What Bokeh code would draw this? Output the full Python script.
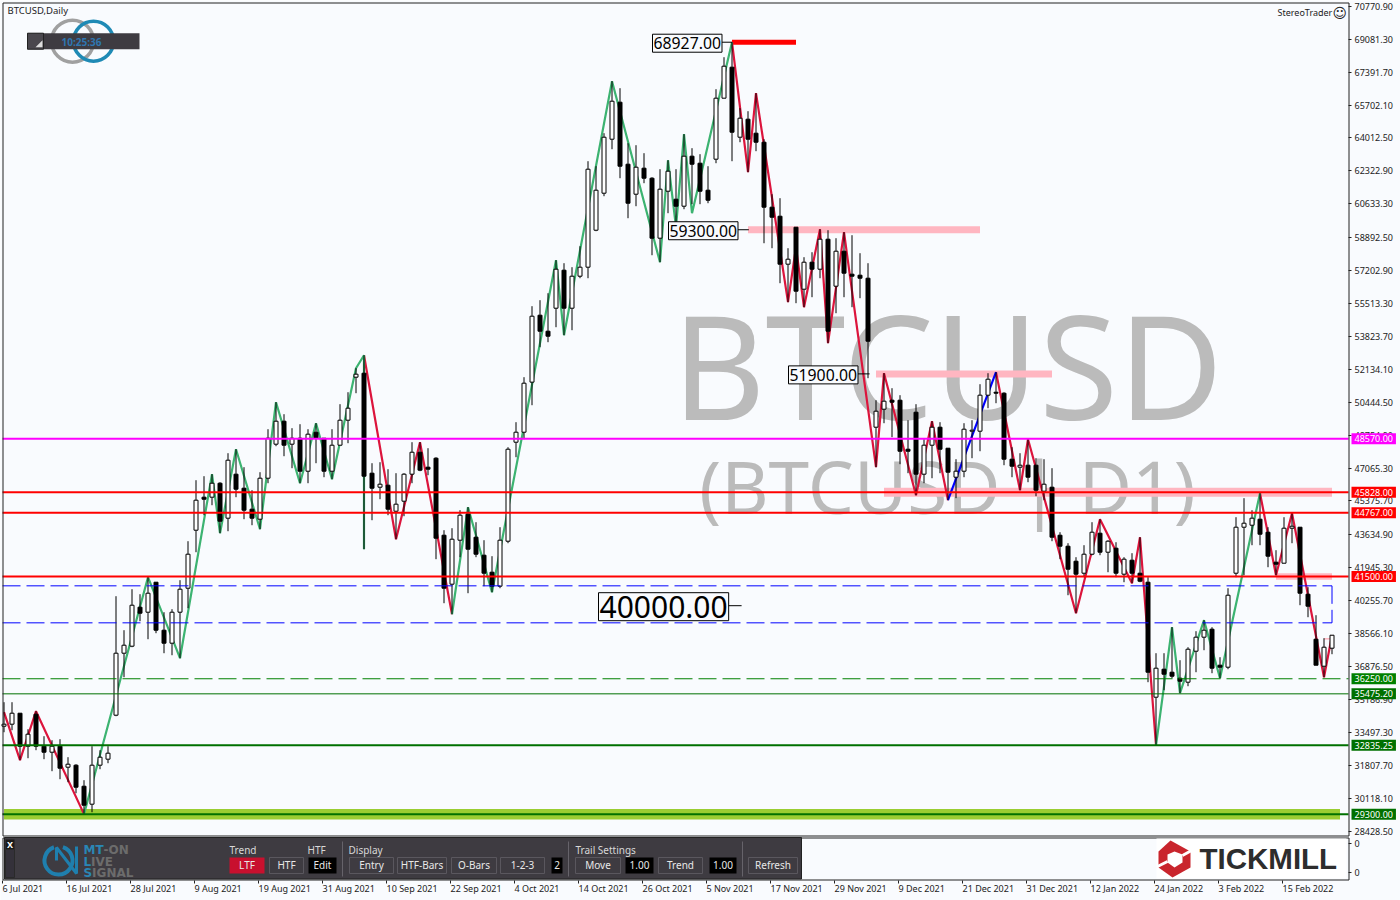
from bokeh.plotting import figure
from bokeh.models import Range1d, FixedTicker, Label, ColumnDataSource, LinearAxis
from bokeh.core.properties import value
from bokeh.embed import file_html
from bokeh.resources import INLINE

opens = [33814,33917,34481,32787,34430,32787,32479,32787,31709,31812,30733,29810,31812,32120,34379,37561,37921,39923,39666,41206,
38742,38075,39666,40898,43875,45570,45570,46288,44492,46751,46031,44954,44440,46545,48291,49471,48291,48598,46904,48906,
48598,46904,48239,49522,51730,51935,46802,46083,46185,44851,45365,46751,47879,47110,47572,43618,41104,43362,44697,43516,
42592,41719,41001,43311,48393,48906,51476,54912,54091,55272,57223,55272,56914,57377,59276,61175,63947,65847,62664,61124,
62459,61945,58866,61278,60867,60508,63075,62715,61329,62921,66053,67644,64050,64974,64255,63793,60457,59994,57531,59430,
56247,57633,57274,58814,56401,58198,57017,56966,56812,49163,50087,50549,50549,48033,49933,46751,48239,49163,48085,46596,
46904,48958,48958,50806,50959,50908,47520,47110,47212,47212,45878,46083,43618,43054,42284,41668,42643,43721,42746,42951,
41617,42335,41668,41206,35303,36740,36586,36278,36073,37664,38383,38793,36945,36842,41668,44029,44132,44440,43773,42233,
42181,43978,44029,40590,38280,36894,37818]
highs = [35046,35046,34481,33659,34584,33300,33095,33146,32223,31863,31042,32787,32582,32787,40487,38742,40846,40590,41463,41206,
39666,39820,41309,43311,46442,46648,46751,46340,47828,48033,47110,45929,46853,49060,50446,49830,49112,49317,49060,49368,
48598,49060,50344,50959,52192,52859,47315,47366,47007,46802,46802,48393,48393,48085,47623,43875,43978,44902,45057,44286,
43362,42541,44029,48136,49420,51730,55375,55683,56042,57736,57582,57377,58455,62818,62561,64255,66925,66565,63742,63639,
63229,61997,62407,62869,62407,64204,63486,63178,62561,66514,68157,68927,65539,65385,66309,63947,61124,60919,58352,59430,
57890,58146,59327,59276,58865,59173,59019,58095,57582,50549,51935,51165,50806,49522,50344,48547,49471,49420,48085,47520,
49368,49522,51370,51935,51986,50959,48136,47828,48547,47572,47520,47059,43773,43208,42490,43105,44286,44440,43362,43259,
42490,42695,43516,41463,37561,37561,38896,37202,37869,38691,39255,38896,37356,40898,44543,45519,44902,45775,44029,42849,
44543,44748,44029,40949,39512,38332,38485]
lows = [33505,33608,32068,32171,32582,32120,31504,31093,30939,30374,29300,29399,31606,31914,34327,36329,37869,39204,38280,38588,
37561,37458,37304,39871,42746,44646,45159,43721,43824,45570,44440,44132,43926,46288,48188,47674,47059,46288,46288,47315,
46596,46493,48239,48342,50908,42900,44389,45467,44646,43413,44595,46288,46904,46699,42387,40128,39563,42490,40641,42490,
41001,40692,40898,43208,47623,48547,50292,53270,53527,54296,53886,54142,56812,56812,59225,61021,63434,61945,59892,60508,
61689,57992,57633,60149,59430,60354,60611,60611,60662,62715,66053,62818,63793,62253,63332,58608,58352,56555,55580,55529,
55324,55837,56812,53475,55015,55837,55324,55786,51679,47110,49368,48650,47264,46802,45673,46288,46545,46802,45416,45519,
46596,47572,47930,50139,50395,47212,46596,45929,46340,45621,45416,43311,42387,40538,39615,41463,42592,42592,41719,41463,
41206,41155,41206,36073,32835,35662,36278,35508,35867,36586,37715,36534,36278,36740,41463,41565,43105,43105,41976,41565,
42181,43208,40025,39409,36945,36329,37510]
closes = [33917,34481,32787,33403,32787,32479,32787,31658,31863,30682,29758,31812,32223,32428,37561,37972,40025,39615,40641,38742,
38075,39666,40846,42643,45416,45467,46288,44338,47469,45980,44902,44492,46545,48598,49471,48239,48598,46904,48804,48598,
46904,48239,49522,50139,51884,46648,46031,46237,44954,45211,46751,47879,46956,47007,43465,40898,43413,44646,42900,42643,
41668,41001,43362,48033,48906,51422,54861,54091,53834,57274,55272,56914,57377,62407,61329,64050,65898,62561,60662,62510,
61945,58866,61381,62305,60508,63075,62664,61278,60816,66053,67695,64307,65026,63947,63793,60457,59943,57531,57787,56145,
57633,57274,58814,54091,58198,57069,56914,56812,53578,49984,50498,50446,47930,47930,46751,48239,49163,48033,46853,46904,
49060,49009,50806,51627,50908,47520,47161,47212,46596,45929,46237,43516,43054,41873,41617,42643,43773,42746,43311,41668,
42387,41668,41257,36586,36791,36483,36380,36124,37766,38383,38742,36791,36842,40538,44029,44235,44492,43670,42541,42130,
43978,44081,40641,39974,36945,37869,38485]

zig_red = [
    [(0,34533),(2,32068),(4,34584),(10,29300)],
    [(45,52859),(49,43413),(52,48393),(56,39563)],
    [(91,68927),(93,62253),(94,66309),(98,55580),(99,58404),(100,55324),(102,59327),(103,53475),(105,59173),(109,47110),(110,51935),(114,45673),(116,49471),(118,45416)],
    [(124,51986),(127,45929),(128,48547),(134,39615),(137,44440),(141,41155),(142,43516),(144,32835)],
    [(157,45775),(159,41565),(161,44748),(165,36329),(166,38485)],
]
zig_green = [
    [(10,29300),(18,41463),(22,37304),(26,46751),(27,43721),(29,48033),(32,43926),(34,50446),(37,46288),(39,49368),(41,46493),(44,52192),(45,52859),(45,42900)],
    [(56,39563),(58,45057),(61,40692),(69,57736),(70,53886),(76,66925),(82,57633),(83,62869),(84,59430),(85,64204),(86,60149),(91,68927)],
    [(144,32835),(146,38896),(147,35508),(150,39255),(152,36278),(157,45775)],
]
zig_blue = [[(118,45416),(124,51986)]]

# (price, half height, first bar, last bar, colour)
bands = [(68927,130,91,99,"#FF0000"),(59300,180,93,122,"#FFB6C1"),(51900,180,109,131,"#FFB6C1"),
         (45828,230,110,166,"#FFB6C1"),(41500,170,159,166,"#FFB6C1"),(38300,40,165,166,"#FFB6C1"),
         (29300,270,0,167,"#9ACD32")]
level_prices = [48570.0,45828.0,44767.0,41500.0,36250.0,35475.2,32835.25,29300.0]
level_texts = ["48570.00","45828.00","44767.00","41500.00","36250.00","35475.20","32835.25","29300.00"]
level_colors = ["#FF00FF","#FF0000","#FF0000","#FF0000","#008000","#007000","#007000","#007000"]
level_dash = ["solid","solid","solid","solid","18 6","solid","solid","solid"]
level_width = [2,2,2,2,1,1,2,2]
rect_prices = [41020,39120]
tick_values = [70770.9,69081.3,67391.7,65702.1,64012.5,62322.9,60633.3,58892.5,57202.9,55513.3,53823.7,52134.1,50444.5,48754.9,
               47065.3,45375.7,43634.9,41945.3,40255.7,38566.1,36876.5,35186.9,33497.3,31807.7,30118.1,28428.5]
date_labels = ["6 Jul 2021","16 Jul 2021","28 Jul 2021","9 Aug 2021","19 Aug 2021","31 Aug 2021","10 Sep 2021","22 Sep 2021",
               "4 Oct 2021","14 Oct 2021","26 Oct 2021","5 Nov 2021","17 Nov 2021","29 Nov 2021","9 Dec 2021","21 Dec 2021",
               "31 Dec 2021","12 Jan 2022","24 Jan 2022","3 Feb 2022","15 Feb 2022"]

BG = "#F9FBFE"
FONT = "Noto Sans"
DARK = "#3E3B41"
INK = "#222222"

def ix(px):
    return (px - 3.5) / 8
def py(y):
    return 71083.4 - 51.335 * y
def pg(y):
    return py(y + 0.3)

p = figure(width=1400, height=900, output_backend="svg", toolbar_location=None,
           x_range=Range1d(ix(0), ix(1400)), y_range=Range1d(pg(900), pg(0)),
           y_axis_location=None, x_axis_location=None,
           min_border_left=0, min_border_right=0, min_border_top=0, min_border_bottom=0,
           background_fill_color=BG, border_fill_color=BG, outline_line_color=None)
p.grid.visible = False

# axes
lower_zero = [pg(843), pg(872)]
ax = LinearAxis(fixed_location=ix(1348))
ax.ticker = FixedTicker(ticks=tick_values + lower_zero)
ax.major_label_overrides = {**{v: f"{v:.2f}" for v in tick_values}, lower_zero[0]: "0", lower_zero[1]: "0"}
ax.major_label_text_font = FONT
ax.major_label_text_font_size = "9px"
ax.major_label_text_color = INK
ax.major_tick_out = 3; ax.major_tick_in = 0; ax.minor_tick_out = 0; ax.minor_tick_in = 0
ax.major_label_standoff = 3
ax.axis_line_color = None
ax.major_tick_line_color = INK
p.add_layout(ax, "right")

tick_px = [2+64*k for k in range(len(date_labels))]
xa = LinearAxis(fixed_location=pg(879.5))
xa.ticker = FixedTicker(ticks=[ix(t) for t in tick_px])
xa.major_label_text_font_size = "0px"
xa.major_label_text_color = None
xa.major_tick_out = 3; xa.major_tick_in = 0; xa.minor_tick_out = 0; xa.minor_tick_in = 0
xa.axis_line_color = None
xa.major_tick_line_color = INK
p.add_layout(xa, "below")

# watermark
p.text([ix(947)], [py(364)], text=["BTCUSD"], text_font=value(FONT), text_font_size="144px", text_color="#BBBBBB",
       text_align="center", text_baseline="middle")
p.text([ix(947)], [py(485)], text=["(BTCUSD | D1)"], text_font=value(FONT), text_font_size="73px", text_color="#BBBBBB",
       text_align="center", text_baseline="middle")

# logo rings
p.circle([ix(72)], [py(41)], radius=21/8, fill_color=None, line_color="#A0A0A0", line_width=3.5)
p.circle([ix(93)], [py(41)], radius=20/8, fill_color=None, line_color="#1F8AB5", line_width=3.5)
p.quad(left=[ix(27)], right=[ix(139)], top=[py(33)], bottom=[py(49)], fill_color=DARK, line_color=None)
p.quad(left=[ix(27)], right=[ix(43)], top=[py(33)], bottom=[py(49)], fill_color="#4A474D", line_color=INK)
p.patch([ix(35), ix(42), ix(42)], [py(47), py(47), py(40)], fill_color="#DDDDDD", line_color=None)

# bands
p.quad(left=[b[2] for b in bands], right=[b[3] for b in bands],
       top=[b[0]+b[1] for b in bands], bottom=[b[0]-b[1] for b in bands],
       fill_color=[b[4] for b in bands], line_color=None)

# zigzags
for group, col in ((zig_red,"#DC143C"),(zig_green,"#3CB371"),(zig_blue,"#0000FF")):
    for seg in group:
        p.line([a for a,_ in seg],[b for _,b in seg], line_color=col, line_width=2.2)

# candles
xs = list(range(len(closes)))
src = ColumnDataSource(dict(x=xs, o=opens, h=highs, l=lows, c=closes,
    top=[max(a,b) for a,b in zip(opens,closes)], bot=[min(a,b) for a,b in zip(opens,closes)],
    col=["#FFFFFF" if c>=o else "#000000" for o,c in zip(opens,closes)]))
p.segment("x","h","x","l", source=src, line_color="#000000", line_width=1)
p.vbar("x", width=0.5, top="top", bottom="bot", fill_color="col", line_color="#000000", line_width=1, source=src)

# dashed rectangle
for rp in rect_prices:
    p.segment([ix(2)],[rp],[ix(1331.5)],[rp], line_color="#0000FF", line_width=1, line_dash="18 6")
p.segment([ix(1331.5)],[rect_prices[0]],[ix(1331.5)],[rect_prices[1]], line_color="#0000FF", line_width=1, line_dash="18 6")

# levels
for lp,col,d,w in zip(level_prices,level_colors,level_dash,level_width):
    p.segment([ix(2)],[lp],[ix(1348)],[lp], line_color=col, line_width=w, line_dash=d)

# frames
p.quad(left=[ix(2.5)], right=[ix(1348.5)], top=[pg(2.5)], bottom=[pg(835.5)], fill_color=None, line_color=INK, line_width=1)

# callouts
callouts = [(68927.00,"68927.00",649,"15.8px",91),(59300.00,"59300.00",665,"15.8px",93.1),
            (51900.00,"51900.00",785,"15.8px",108.2),(40000.00,"40000.00",595,"30px",92.2)]
for val,txt_,lx,fs,endbar in callouts:
    p.segment([ix(lx+60)],[val],[endbar],[val], line_color="#000000", line_width=1)
for val,txt_,lx,fs,endbar in callouts:
    p.add_layout(Label(x=ix(lx+3), y=val, y_offset=-1, text=txt_, text_font=FONT, text_font_size=fs, text_color="#000000",
                       text_baseline="middle", text_align="left", padding=(1,3), background_fill_color=BG,
                       border_line_color="#000000", border_line_width=1))

for lp,txt_,col in zip(level_prices,level_texts,level_colors):
    p.add_layout(Label(x=ix(1351), y=lp, text=txt_, text_font=FONT, text_font_size="9px", text_color="#FFFFFF",
                       text_baseline="middle", text_align="left", padding=(3,2), background_fill_color=col))

def txt(x,y,s,size="10px",color="#D8D8D8",align="left",style="normal",font=FONT):
    p.add_layout(Label(x=ix(x),y=pg(y),text=s,text_font=font,text_font_size=size,text_color=color,text_align=align,
                       text_baseline="middle",text_font_style=style))

txt(7,10,"BTCUSD,Daily","9.5px",INK)
txt(61,41,"10:25:36","10px","#2F76B0","left","bold")
txt(1277,12,"StereoTrader","9px",INK)
txt(1332,12,"\u263A","14px",INK,"left","normal","DejaVu Sans")

# ---------- lower window ----------
def box(x0,x1,y0,y1,fill,line=None):
    p.quad(left=[ix(x0)],right=[ix(x1)],top=[pg(y0)],bottom=[pg(y1)],fill_color=fill,line_color=line)

box(2.5,1348.5,837.5,879.5,BG,INK)
box(1156,1346,838,878,"#FFFFFF")
box(4,801,837,878.5,DARK,INK)
box(5,14,839,849,"#1A1A1A")
box(5,14,849,877,"#34313A","#2A2A2A")
txt(9.5,844,"X","9px","#FFFFFF","center","bold")

for lab,tx in zip(date_labels,tick_px):
    txt(tx,888,lab,"9px",INK)

# panel logo
p.arc([ix(58)],[pg(860)],radius=14/8,start_angle=1.9,end_angle=1.25,line_color="#1F7FAE",line_width=4)
p.line([ix(56),ix(56),ix(76),ix(76)],[pg(860),pg(847),pg(873),pg(846)],line_color="#1F7FAE",line_width=3)
for (tx1,tx2,yy) in (("MT","-ON",849.5),("L","IVE",861),("S","IGNAL",872.5)):
    txt(83,yy,tx1,"12px","#2A86B5","left","bold","DejaVu Sans")
    wid = {"MT":20,"L":7.6,"S":8.6}[tx1]
    txt(83+wid,yy,tx2,"12px","#6C6C6C","left","bold","DejaVu Sans")
for (lab,x0) in (("Trend",229),("HTF",307),("Display",348),("Trail Settings",575)):
    txt(x0,849,lab)
for sx in (342,568,742):
    p.segment([ix(sx)],[pg(841)],[ix(sx)],[pg(876)],line_color="#66636A",line_width=1)
buttons = [("LTF",229,264,"#C8102E"),("HTF",269,303,DARK),("Edit",308,336,"#000000"),("Entry",349,393,DARK),
           ("HTF-Bars",397,446,DARK),("O-Bars",451,496,DARK),("1-2-3",500,544,DARK),("2",551,562,"#000000"),
           ("Move",575,620,DARK),("1.00",625,653,"#000000"),("Trend",658,702,DARK),("1.00",709,736,"#000000"),("Refresh",748,797,DARK)]
for lab,x0,x1,f in buttons:
    box(x0,x1,857,873,f,"#5A575E" if f==DARK else None)
    txt((x0+x1)/2,864.5,lab,"10px","#E8E8E8","center")

# Tickmill
def pts(seq):
    return [ix(a) for a,_ in seq],[pg(b) for _,b in seq]
hx,hy = pts([(1170,840),(1190,851),(1190,867),(1172,877),(1158,867),(1158,851)])
p.patch(hx,hy,fill_color="#C9252D",line_color=None)
hx,hy = pts([(1174,851),(1182,854),(1182,862),(1174,867),(1167,862),(1167,854)])
p.patch(hx,hy,fill_color="#FFFFFF",line_color=None)
p.segment([ix(1157),ix(1182)],[pg(866),pg(855)],[ix(1167),ix(1191)],[pg(861),pg(850)],line_color="#FFFFFF",line_width=3)
txt(1199,858,"TICKMILL","29.5px","#2D2D2D","left","bold","Liberation Sans")

open("out.html","w").write(file_html(p,INLINE))
